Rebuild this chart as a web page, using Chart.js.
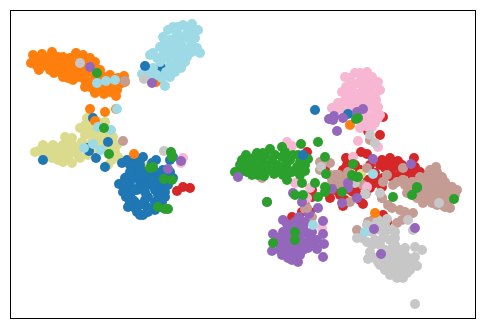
<!DOCTYPE html>
<html>
<head>
<meta charset="utf-8">
<style>
  html, body { margin: 0; padding: 0; background: #fff; }
  canvas { display: block; }
</style>
<script src="https://cdn.jsdelivr.net/npm/chart.js@4"></script>
</head>
<body>
<canvas id="chart" width="484" height="328"></canvas>
<script>
// axis limits of the scatter
const xLimits = [11, 475];
const yLimits = [11, 318];

// main clusters, as [x, y]
const redCluster = [[361,152],[367,154],[343,170],[350,160],[382,160],[390,158],[398,161],[414,158],[375,173],[385,168],[395,167],[415,167],[392,177],[412,175],[382,187],[330,198],[343,206],[363,204],[350,190],[357,187],[370,188],[395,177],[383,178],[292,217],[305,205],[310,212],[312,190],[447,203],[383,215],[387,222],[412,173],[420,172],[383,117],[368,131],[177,191],[183,187],[190,188],[380,135],[307,152],[335,185],[325,170],
  [380,165],[388,163],[395,162],[402,165],[405,172],[390,172],[378,180],[370,165],[360,170],[347,165],[345,178],[355,165],[370,180],[400,175],[410,168],[346,158],[353,192],[340,195],[345,200],[358,195],[335,190],[345,183],[312,197],[302,212],[298,222],[360,200],[368,180],[375,183]];
const tanCluster = [[432,177],[440,177],[423,180],[450,187],[457,190],[442,187],[432,188],[420,190],[407,193],[413,182],[403,180],[423,203],[432,203],[450,208],[447,200],[437,197],[427,197],[417,198],[387,175],[393,185],[383,182],[382,198],[392,208],[400,210],[413,213],[402,220],[397,223],[357,230],[373,220],[350,202],[338,175],[333,180],[363,185],[305,209],[312,217],[368,222],[436,167],[428,175],[442,177],[420,177],[452,187],[403,180],[412,182],[262,178],[330,163],[320,162],[370,140],
  [408,188],[415,190],[425,185],[430,182],[435,183],[445,182],[445,192],[435,192],[425,192],[425,198],[437,205],[442,205],[412,195],[420,197],[430,170],[437,172],[450,193],[455,195],[405,185],[397,182],[445,207],[432,195],[440,195],[320,170],[343,178],[330,175],[340,185],[348,172],[405,212],[388,205]];
const pinkCluster = [[345,77],[355,73],[367,72],[360,73],[378,82],[380,90],[342,92],[350,85],[358,83],[368,82],[350,93],[360,93],[370,92],[343,102],[353,102],[363,100],[373,100],[332,108],[340,108],[350,108],[360,107],[372,107],[378,107],[380,115],[372,118],[375,123],[360,128],[368,127],[358,141],[378,147],[287,142],[292,146],[353,157],[295,183],[310,188],[307,198],[367,187],[322,228],[123,78],[183,158],[181,163],
  [350,78],[362,78],[372,77],[373,85],[352,88],[346,87],[363,87],[375,95],[365,97],[355,97],[347,97],[338,103],[348,100],[358,103],[368,105],[376,100],[335,110],[345,113],[355,113],[365,113],[375,112],[368,120],[378,118],[362,122],[372,127]];
const grayCluster = [[357,238],[367,225],[378,220],[387,219],[368,259],[370,252],[367,242],[380,230],[392,230],[395,238],[383,238],[392,248],[380,265],[390,257],[405,248],[415,247],[422,250],[417,266],[407,273],[403,278],[397,278],[390,275],[400,267],[408,258],[415,257],[400,258],[390,267],[415,304],[408,220],[413,230],[96,68],
  [372,232],[385,225],[375,240],[385,232],[380,245],[372,245],[375,258],[385,250],[395,245],[395,262],[385,260],[405,265],[412,262],[405,255],[395,270],[385,270],[400,272],[410,270],[395,255],[390,240],[400,250],[378,262],[362,238],[375,225],[395,232]];
const khakiCluster = [[35,152],[43,145],[53,145],[65,137],[72,138],[80,128],[87,118],[105,122],[93,135],[113,137],[117,145],[118,157],[72,163],[63,162],[52,158],[43,153],[53,152],[63,152],[73,152],[82,142],[63,145],[73,145],[100,132],[90,128],[107,138],[108,165],[145,167],[153,170],[98,122],[110,147],[361,174],
  [40,150],[48,148],[48,155],[58,148],[58,155],[68,148],[68,155],[78,148],[78,155],[68,142],[58,158],[85,135],[85,125],[92,122],[98,137],[103,130],[110,132],[100,142],[92,142],[110,142],[115,152],[105,148],[95,150],[88,155],[80,158],[112,160],[68,158],[58,160]];
const orangeCluster = [[33,55],[42,54],[52,52],[63,57],[31,63],[37,66],[45,62],[55,62],[65,64],[39,70],[50,70],[60,72],[54,73],[63,77],[73,80],[70,70],[76,64],[76,53],[83,55],[85,60],[95,62],[80,70],[85,75],[92,72],[88,68],[95,75],[100,70],[85,80],[91,82],[96,80],[102,76],[110,75],[112,80],[104,80],[118,78],[125,82],[124,76],[85,87],[95,93],[104,94],[116,96],[117,90],[110,85],[90,109],[105,112],[116,109],[156,82],
  [37,58],[47,58],[58,57],[68,60],[43,66],[35,60],[50,58],[60,66],[66,70],[72,75],[79,77],[80,58],[90,58],[90,65],[56,68],[48,65],[70,58],[70,66],[75,72],[68,78],[80,64],[92,65],[82,66],[100,80],[92,88],[100,88],[108,88],[114,84],[120,84],[110,92]];
const blueCluster = [[122,163],[127,160],[135,160],[143,157],[156,160],[135,170],[127,177],[119,184],[123,192],[135,178],[145,178],[153,178],[162,177],[130,185],[140,185],[150,183],[160,187],[165,192],[130,195],[158,195],[128,207],[135,208],[143,215],[137,212],[155,210],[147,207],[162,202],[135,202],[145,200],[155,202],[143,188],[173,178],[170,160],[173,157],[161,67],[159,70],
  [125,185],[128,190],[135,190],[130,165],[140,165],[130,172],[140,172],[150,172],[148,185],[155,190],[160,180],[168,185],[153,185],[126,197],[133,200],[140,205],[148,212],[140,215],[150,210],[160,207],[165,197],[140,178],[130,178],[163,170],[152,163],[140,160],[170,172],[148,197],[160,198],[130,203],[137,190],
  [150,178],[145,172],[125,178],[157,173],[145,192]];
const lightBlueCluster = [[173,27],[183,25],[192,24],[198,30],[163,37],[195,38],[177,33],[187,33],[170,40],[180,42],[190,40],[197,48],[200,53],[153,53],[160,47],[167,50],[177,50],[187,50],[157,58],[167,58],[177,60],[187,57],[181,68],[160,62],[170,65],[153,68],[142,74],[148,70],[157,75],[170,77],[162,78],[165,86],[150,77],
  [168,30],[178,27],[188,27],[193,30],[175,38],[185,37],[165,42],[172,45],[182,46],[192,45],[163,55],[172,55],[182,55],[192,52],[150,55],[175,65],[175,72],[185,62],[145,72],[152,73],[166,72]];
const purpleCluster = [[283,220],[299,217],[309,214],[318,208],[323,221],[323,234],[324,244],[317,249],[323,257],[298,262],[288,258],[282,255],[272,251],[273,234],[283,232],[292,227],[303,227],[290,237],[300,237],[310,237],[317,240],[290,247],[300,247],[308,248],[280,245],[292,255],[300,255],
  [278,238],[287,224],[295,222],[305,222],[288,232],[298,232],[305,232],[295,227],[285,238],[280,250],[285,250],[295,243],[305,243],[312,232],[295,250],[303,250],[287,243],[292,260],[312,243]];
const greenCluster = [[235,172],[246,155],[242,160],[257,153],[270,149],[282,147],[245,167],[253,163],[262,160],[272,160],[282,157],[293,155],[308,159],[247,172],[258,175],[264,176],[274,174],[287,180],[288,173],[297,167],[305,171],[280,167],[268,168],[258,168],[300,162],[287,162],
  [250,160],[250,170],[240,165],[240,172],[255,157],[263,153],[265,165],[275,155],[277,165],[285,152],[290,160],[292,172],[283,175],[270,170],[262,172],[252,175],[280,172],[298,155],[305,165],[300,175],[265,155],[248,165],[287,168]];

// points that landed away from their own cluster
const blueStrays = [[145,66],[93,118],[108,142],[88,148],[89,151],[96,158],[105,167],[43,160],[315,110],[303,155],[348,114]];
const tanStrays = [[125,81],[123,141],[339,175],[367,168],[403,168],[366,194],[382,198],[335,175],[332,180],[307,208]];
const grayStrays = [[80,63],[144,79],[164,151],[370,135],[375,143],[321,167],[355,183],[380,193],[439,203],[365,194]];
const orangeStrays = [[95,121],[134,154],[350,125],[375,213]];
const lightBlueStrays = [[97,83],[106,81],[115,80],[117,109],[98,127],[111,130],[84,148],[93,144],[101,150],[373,174],[313,225],[365,232]];
const purpleStrays = [[90,67],[152,83],[168,169],[181,161],[329,119],[334,116],[333,120],[343,118],[357,112],[363,109],[337,131],[238,177],[373,159],[411,164],[293,193],[302,202],[332,189],[348,183],[348,188],[342,203],[357,198],[374,229],[381,254],[415,228],[267,202]];
const greenStrays = [[97,73],[104,128],[109,154],[150,168],[153,167],[164,179],[172,180],[158,207],[165,209],[168,209],[171,152],[172,157],[356,119],[358,118],[301,144],[318,142],[325,157],[302,183],[315,183],[326,174],[326,188],[353,164],[353,176],[358,177],[417,187],[303,195],[295,195],[318,197],[325,187],[325,192],[342,192],[352,175],[357,177],[393,197],[412,195],[417,188],[454,199],[295,232],[295,240],[273,243],[267,202]];

const layers = [
  { color: '#d62728', points: redCluster },
  { color: '#c49c94', points: tanCluster },
  { color: '#f7b6d2', points: pinkCluster },
  { color: '#c7c7c7', points: grayCluster },
  { color: '#dbdb8d', points: khakiCluster },
  { color: '#ff7f0e', points: orangeCluster },
  { color: '#1f77b4', points: blueCluster },
  { color: '#9edae5', points: lightBlueCluster },
  { color: '#9467bd', points: purpleCluster },
  { color: '#2ca02c', points: greenCluster },
  { color: '#1f77b4', points: blueStrays },
  { color: '#c49c94', points: tanStrays },
  { color: '#c7c7c7', points: grayStrays },
  { color: '#ff7f0e', points: orangeStrays },
  { color: '#9edae5', points: lightBlueStrays },
  { color: '#9467bd', points: purpleStrays },
  { color: '#2ca02c', points: greenStrays }
];

// the frame of the plot
const frame = {
  id: 'frame',
  afterDraw(chart) {
    const { ctx, chartArea: a } = chart;
    ctx.save();
    ctx.strokeStyle = '#000';
    ctx.lineWidth = 1;
    ctx.strokeRect(a.left - 0.5, a.top - 0.5, a.right - a.left + 1, a.bottom - a.top + 1);
    ctx.restore();
  }
};

new Chart(document.getElementById('chart'), {
  type: 'scatter',
  data: {
    // Chart.js paints the first dataset last
    datasets: layers.slice().reverse().map(layer => ({
      data: layer.points.map(p => ({ x: p[0], y: p[1] })),
      backgroundColor: layer.color,
      borderWidth: 0,
      pointRadius: 5,
      clip: false
    }))
  },
  options: {
    responsive: false,
    animation: false,
    layout: { padding: { left: 11, top: 11, right: 9, bottom: 10 } },
    plugins: { legend: { display: false }, tooltip: { enabled: false } },
    scales: {
      x: { display: false, min: xLimits[0], max: xLimits[1] },
      y: { display: false, min: yLimits[0], max: yLimits[1], reverse: true }
    }
  },
  plugins: [frame]
});
</script>
</body>
</html>
